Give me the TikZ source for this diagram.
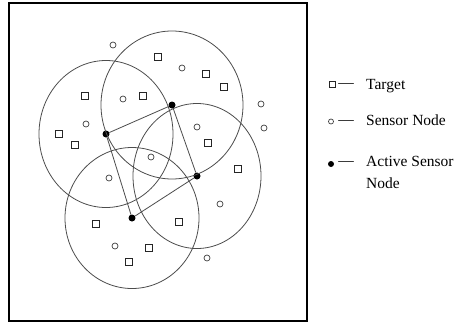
\documentclass[tikz,border=0pt]{standalone}
\usepackage{fontspec}
\setmainfont{Liberation Serif}
\usetikzlibrary{positioning}

\begin{document}
\begin{tikzpicture}[
  x=1pt, y=-1pt,
  every node/.style={font=\fontsize{15.5}{19}\selectfont},
  target/.style={
    rectangle, draw=black!85, line width=0.8pt,
    minimum size=7pt, inner sep=0pt
  },
  sensor/.style={
    circle, draw=black!75, line width=0.7pt,
    minimum size=6pt, inner sep=0pt
  },
  active/.style={circle, fill=black, minimum size=7pt, inner sep=0pt},
  reach/.style={draw=black!70, line width=0.8pt},
  hoplink/.style={draw=black!70, line width=0.8pt},
  fieldbox/.style={draw=black, line width=1.2pt},
  keytext/.style={anchor=base west, inner sep=0pt},
  keydash/.style={anchor=base, inner sep=0pt}
]
\useasboundingbox (0,0) rectangle (458,322);

%% ─── Field border ───────────────────────────────────────────────────────────
\draw[fieldbox] (9,3) rectangle (307,321);

%% ─── Active sensors and their ranges ────────────────────────────────────────
\node[active] (hubw) at (106,134) {};
\node[active] (hubn) at (172,105) {};
\node[active] (hube) at (197,176) {};
\node[active] (hubs) at (132,218) {};

\draw[reach] (hubw) ellipse (67 and 73.5);
\draw[reach] (hubn) ellipse (71 and 74);
\draw[reach] (hube) ellipse (64 and 72.5);
\draw[reach] (hubs) ellipse (67 and 70.5);

\draw[hoplink] (hubw) -- (hubn);
\draw[hoplink] (hubn) -- (hube);
\draw[hoplink] (hube) -- (hubs);
\draw[hoplink] (hubs) -- (hubw);

%% ─── Targets ────────────────────────────────────────────────────────────────
\node[target] (t1)  at (158,57)  {};
\node[target] (t2)  at (206,74)  {};
\node[target] (t3)  at (224,87)  {};
\node[target] (t4)  at (85,96)   {};
\node[target] (t5)  at (143,96)  {};
\node[target] (t6)  at (59,134)  {};
\node[target] (t7)  at (75,145)  {};
\node[target] (t8)  at (208,143) {};
\node[target] (t9)  at (238,169) {};
\node[target] (t10) at (96,224)  {};
\node[target] (t11) at (179,222) {};
\node[target] (t12) at (149,248) {};
\node[target] (t13) at (129,262) {};

%% ─── Idle sensor nodes ──────────────────────────────────────────────────────
\node[sensor] (s1)  at (113,45)  {};
\node[sensor] (s2)  at (182,68)  {};
\node[sensor] (s3)  at (123,99)  {};
\node[sensor] (s4)  at (86,124)  {};
\node[sensor] (s5)  at (261,104) {};
\node[sensor] (s6)  at (264,128) {};
\node[sensor] (s7)  at (197,127) {};
\node[sensor] (s8)  at (151,157) {};
\node[sensor] (s9)  at (109,178) {};
\node[sensor] (s10) at (220,204) {};
\node[sensor] (s11) at (115,246) {};
\node[sensor] (s12) at (207,258) {};

%% ─── Legend ─────────────────────────────────────────────────────────────────
\node[target, minimum size=6pt] (keytgt) at (332,84) {};
\node[sensor, minimum size=5pt] (keysen) at (331,121.5) {};
\node[active, minimum size=6pt] (keyact) at (331,164) {};

\node[keydash] (dashtgt) at (346,87.5)  {---};
\node[keydash] (dashsen) at (346,124)   {---};
\node[keydash] (dashact) at (346,165)   {---};

\node[keytext] (lbltgt)  at (366,89)    {Target};
\node[keytext] (lblsen)  at (366,125)   {Sensor Node};
\node[keytext] (lblact)  at (366,166.5) {Active Sensor};
\node[keytext] (lblact2) at (366,188)   {Node};

\end{tikzpicture}
\end{document}
